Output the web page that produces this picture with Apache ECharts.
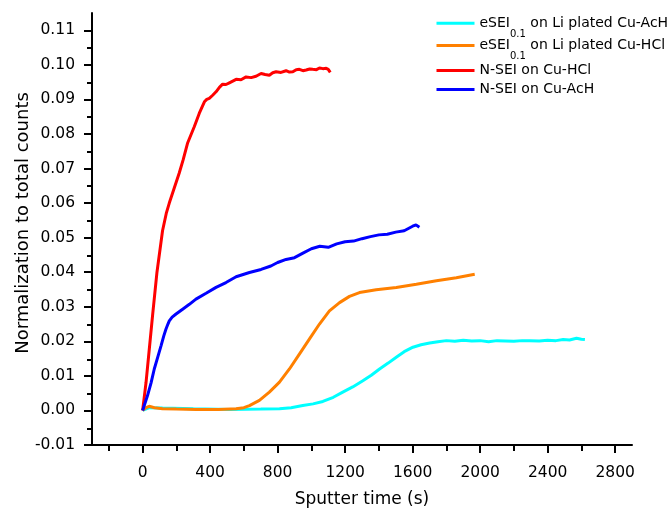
<!DOCTYPE html>
<html><head><meta charset="utf-8">
<script src="https://cdn.jsdelivr.net/npm/echarts@6/dist/echarts.min.js"></script>
<style>html,body{margin:0;padding:0;background:#fff}#c{width:670px;height:513px}</style>
</head><body><div id="c"></div>
<script>
const seriesNames = ['eSEI0.1 on Li plated Cu-AcH', 'eSEI0.1 on Li plated Cu-HCl', 'N-SEI on Cu-HCl', 'N-SEI on Cu-AcH'];
const seriesColors = ['#00ffff', '#ff8000', '#ff0000', '#0000ff'];

const cyanT = [0, 40, 118, 300, 514, 700, 811, 880, 949, 1010, 1068, 1130, 1186, 1245, 1305, 1355, 1404, 1455, 1503, 1550, 1602, 1650, 1701, 1750, 1800, 1850, 1900, 1950, 2000, 2050, 2100, 2150, 2200, 2250, 2294, 2350, 2400, 2450, 2492, 2530, 2571, 2600, 2621];
const cyanV = [0, 0.0008, 0.0007, 0.0005, 0.0003, 0.0004, 0.0005, 0.0008, 0.0014, 0.0019, 0.0026, 0.0038, 0.0053, 0.0068, 0.0086, 0.0102, 0.0120, 0.0137, 0.0154, 0.0170, 0.0183, 0.0190, 0.0195, 0.0199, 0.0202, 0.0200, 0.0203, 0.0201, 0.0202, 0.0199, 0.0202, 0.0201, 0.0200, 0.0202, 0.0202, 0.0201, 0.0203, 0.0202, 0.0205, 0.0204, 0.0209, 0.0206, 0.0205];

const orangeT = [0, 20, 39, 70, 118, 200, 316, 450, 554, 600, 633, 692, 751, 811, 870, 929, 989, 1048, 1107, 1167, 1226, 1285, 1384, 1503, 1622, 1741, 1859, 1968];
const orangeV = [0, 0.0008, 0.0012, 0.0008, 0.0005, 0.0004, 0.0003, 0.0003, 0.0005, 0.0008, 0.0014, 0.0029, 0.0053, 0.0082, 0.0120, 0.0163, 0.0207, 0.0250, 0.0288, 0.0312, 0.0330, 0.0341, 0.0349, 0.0356, 0.0365, 0.0375, 0.0384, 0.0394];

const redT = [0, 10, 20, 40, 60, 85, 118, 140, 158, 185, 217, 240, 266, 306, 336, 366, 380, 395, 415, 435, 455, 474, 494, 514, 534, 554, 583, 613, 643, 672, 702, 726, 751, 771, 791, 820, 850, 870, 890, 910, 929, 950, 969, 990, 1008, 1030, 1048, 1068, 1088, 1100, 1112];
const redV = [0, 0.0040, 0.0080, 0.0180, 0.0280, 0.0400, 0.0520, 0.0570, 0.0600, 0.0640, 0.0687, 0.0725, 0.0773, 0.0821, 0.0860, 0.0893, 0.0900, 0.0903, 0.0912, 0.0922, 0.0935, 0.0944, 0.0943, 0.0948, 0.0953, 0.0958, 0.0957, 0.0965, 0.0963, 0.0967, 0.0975, 0.0972, 0.0970, 0.0977, 0.0980, 0.0978, 0.0983, 0.0979, 0.0980, 0.0986, 0.0987, 0.0983, 0.0985, 0.0988, 0.0987, 0.0986, 0.0991, 0.0989, 0.0990, 0.0987, 0.0978];

const blueT = [0, 15, 29, 50, 69, 90, 109, 125, 138, 150, 158, 175, 198, 237, 277, 316, 376, 435, 494, 554, 633, 702, 760, 800, 850, 900, 950, 1000, 1050, 1100, 1150, 1200, 1250, 1300, 1350, 1400, 1450, 1500, 1550, 1600, 1620, 1640];
const blueV = [0, 0.0022, 0.0043, 0.0080, 0.0120, 0.0155, 0.0187, 0.0215, 0.0235, 0.0250, 0.0259, 0.0270, 0.0279, 0.0293, 0.0307, 0.0322, 0.0339, 0.0356, 0.0370, 0.0387, 0.0399, 0.0408, 0.0418, 0.0428, 0.0437, 0.0442, 0.0455, 0.0468, 0.0475, 0.0472, 0.0482, 0.0488, 0.0490, 0.0497, 0.0503, 0.0508, 0.0510, 0.0516, 0.0520, 0.0533, 0.0537, 0.0530];

const xMajorTicks = [0, 400, 800, 1200, 1600, 2000, 2400, 2800];
const xMinorTicks = [-200, 200, 600, 1000, 1400, 1800, 2200, 2600];
const yMajorTicks = [-0.01, 0.00, 0.01, 0.02, 0.03, 0.04, 0.05, 0.06, 0.07, 0.08, 0.09, 0.10, 0.11];
const yMinorTicks = [-0.005, 0.005, 0.015, 0.025, 0.035, 0.045, 0.055, 0.065, 0.075, 0.085, 0.095, 0.105];

const xTitle = 'Sputter time (s)';
const yTitle = 'Normalization to total counts';

const seriesT = [cyanT, orangeT, redT, blueT];
const seriesV = [cyanV, orangeV, redV, blueV];

const FONT = 'DejaVu Sans';
const gridRect = {left: 92, right: 38, top: 13, bottom: 67};

function zip(a, b) { return a.map((t, i) => [t, b[i]]); }

function legendFormatter(name) {
  if (name.indexOf('eSEI0.1') === 0) {
    return '{n|eSEI}{s|0.1}{n|' + name.slice(7) + '}';
  }
  return name;
}
const legendRich = {
  n: {fontSize: 14, fontFamily: FONT, color: '#000', lineHeight: 32, verticalAlign: 'middle'},
  s: {fontSize: 10, fontFamily: FONT, color: '#000', lineHeight: 12, verticalAlign: 'bottom'}
};
const legendTops = [16.2, 38.5, 63.5, 82.5];

const option = {
  animation: false,
  backgroundColor: '#fff',
  grid: [
    Object.assign({}, gridRect),
    Object.assign({}, gridRect)
  ],
  legend: seriesNames.map((nm, i) => ({
    data: [nm],
    left: 435,
    top: legendTops[i],
    padding: 0,
    itemWidth: 38,
    itemHeight: 14,
    itemGap: 0,
    itemStyle: {opacity: 0},
    lineStyle: {width: 3},
    formatter: legendFormatter,
    textStyle: {fontSize: 14, fontFamily: FONT, color: '#000', rich: legendRich},
    selectedMode: false
  })),
  xAxis: [
    {
      type: 'value', gridIndex: 0, min: -300, max: 2900,
      axisLine: {show: true, onZero: false, lineStyle: {color: '#000', width: 2}},
      axisTick: {show: true, customValues: xMajorTicks, length: 8, lineStyle: {color: '#000', width: 2}},
      axisLabel: {show: true, customValues: xMajorTicks, margin: 20, fontSize: 15.5, fontFamily: FONT, color: '#000',
        formatter: v => String(v)},
      splitLine: {show: false},
      name: xTitle, nameLocation: 'middle', nameGap: 46, nameMoveOverlap: false,
      nameTextStyle: {fontSize: 17, fontFamily: FONT, color: '#000'}
    },
    {
      type: 'value', gridIndex: 1, min: -300, max: 2900,
      axisLine: {show: false, onZero: false},
      axisTick: {show: true, customValues: xMinorTicks, length: 5, lineStyle: {color: '#000', width: 2}},
      axisLabel: {show: false},
      splitLine: {show: false}
    }
  ],
  yAxis: [
    {
      type: 'value', gridIndex: 0, min: -0.01, max: 0.115,
      axisLine: {show: true, onZero: false, lineStyle: {color: '#000', width: 2}},
      axisTick: {show: true, customValues: yMajorTicks, length: 8, lineStyle: {color: '#000', width: 2}},
      axisLabel: {show: true, customValues: yMajorTicks, margin: 17, fontSize: 15.5, fontFamily: FONT, color: '#000',
        formatter: v => v.toFixed(2)},
      splitLine: {show: false},
      name: yTitle, nameLocation: 'middle', nameGap: 60, nameMoveOverlap: false,
      nameTextStyle: {fontSize: 18, fontFamily: FONT, color: '#000', padding: [0, 0, 0, 12]}
    },
    {
      type: 'value', gridIndex: 1, min: -0.01, max: 0.115,
      axisLine: {show: false, onZero: false},
      axisTick: {show: true, customValues: yMinorTicks, length: 5, lineStyle: {color: '#000', width: 2}},
      axisLabel: {show: false},
      splitLine: {show: false}
    }
  ],
  series: seriesNames.map((nm, i) => ({
    name: nm,
    type: 'line',
    xAxisIndex: 0,
    yAxisIndex: 0,
    showSymbol: false,
    symbol: 'none',
    smooth: false,
    color: seriesColors[i],
    lineStyle: {color: seriesColors[i], width: 3},
    data: zip(seriesT[i], seriesV[i])
  }))
};

const chart = echarts.init(document.getElementById('c'), null, {renderer: 'canvas'});
chart.setOption(option);
</script>
</body></html>
